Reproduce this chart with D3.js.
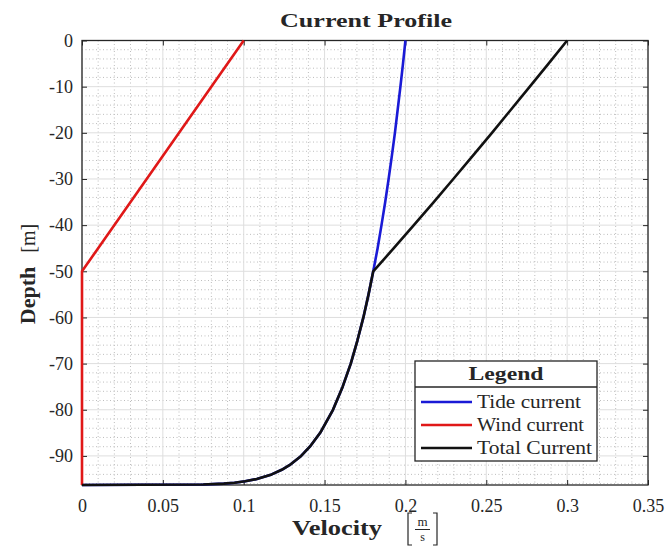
<!DOCTYPE html>
<html>
<head>
<meta charset="utf-8">
<script src="https://cdn.jsdelivr.net/npm/d3@7"></script>
<style>
  html, body { margin: 0; padding: 0; background: #fff; }
  svg { display: block; }
  text { font-family: "Liberation Serif", "Times New Roman", serif; fill: #262626; }
</style>
</head>
<body>
<svg id="chart" width="665" height="547"></svg>
<script>
// Depth stations (m) and velocities (m/s) of the current profile
const depths = [0, -5, -10, -15, -20, -25, -30, -35, -40, -45, -50, -55, -60, -65, -70, -75, -80, -85, -88, -90, -92, -93, -94, -95, -95.5, -95.8, -96, -96.2, -96.3];
const tideVel = [0.2, 0.1985, 0.1969, 0.1952, 0.1935, 0.1916, 0.1896, 0.1875, 0.1852, 0.1828, 0.1801, 0.1772, 0.1740, 0.1703, 0.1662, 0.1612, 0.1552, 0.1473, 0.1409, 0.1355, 0.1283, 0.1235, 0.1173, 0.1081, 0.1009, 0.0943, 0.0877, 0.0750, 0];
const windDepths = [0, -50, -96.3];
const windVel = [0.1, 0, 0];
const totalVel = [0.3, 0.2885, 0.2769, 0.2652, 0.2535, 0.2416, 0.2296, 0.2175, 0.2052, 0.1928, 0.1801, 0.1772, 0.1740, 0.1703, 0.1662, 0.1612, 0.1552, 0.1473, 0.1409, 0.1355, 0.1283, 0.1235, 0.1173, 0.1081, 0.1009, 0.0943, 0.0877, 0.0750, 0];

const xTicks = [0, 0.05, 0.1, 0.15, 0.2, 0.25, 0.3, 0.35];
const xTickLabels = ["0", "0.05", "0.1", "0.15", "0.2", "0.25", "0.3", "0.35"];
const yTicks = [0, -10, -20, -30, -40, -50, -60, -70, -80, -90];
const yTickLabels = ["0", "-10", "-20", "-30", "-40", "-50", "-60", "-70", "-80", "-90"];

const seriesNames = ["Tide current", "Wind current", "Total Current"];
const seriesColors = ["#1a1ad6", "#e01818", "#111111"];

const svg = d3.select("#chart");
const L = 82, R = 648, T = 40.5, B = 485;

const x = d3.scaleLinear().domain([0, 0.35]).range([L, R]);
const y = d3.scaleLinear().domain([-96.3, 0]).range([B, T]);

// minor grid (dotted)
const minorX = d3.range(0, 0.3501, 0.01).filter(v => Math.abs(v / 0.05 - Math.round(v / 0.05)) > 1e-6);
const minorY = d3.range(-96, 0.01, 2).filter(v => v % 10 !== 0);
const grid = svg.append("g");
grid.selectAll(".mx").data(minorX).join("line")
  .attr("x1", d => x(d)).attr("x2", d => x(d)).attr("y1", T).attr("y2", B)
  .attr("stroke", "#bdbdbd").attr("stroke-width", 1).attr("stroke-dasharray", "1,2.5");
grid.selectAll(".my").data(minorY).join("line")
  .attr("y1", d => y(d)).attr("y2", d => y(d)).attr("x1", L).attr("x2", R)
  .attr("stroke", "#bdbdbd").attr("stroke-width", 1).attr("stroke-dasharray", "1,2.5");
// major grid
grid.selectAll(".gx").data(xTicks).join("line")
  .attr("x1", d => x(d)).attr("x2", d => x(d)).attr("y1", T).attr("y2", B)
  .attr("stroke", "#dedede").attr("stroke-width", 1);
grid.selectAll(".gy").data(yTicks).join("line")
  .attr("y1", d => y(d)).attr("y2", d => y(d)).attr("x1", L).attr("x2", R)
  .attr("stroke", "#dedede").attr("stroke-width", 1);

// axes with inward ticks on all four sides
const fmtX = d => xTickLabels[xTicks.indexOf(d)];
const fmtY = d => yTickLabels[yTicks.indexOf(d)];
const styleAxis = g => {
  g.select(".domain").remove();
  g.selectAll(".tick line").attr("stroke", "#262626").attr("stroke-width", 1);
  g.selectAll("text").attr("font-size", 18).attr("font-family", "Liberation Serif").attr("fill", "#262626");
};
svg.append("g").attr("transform", `translate(0,${B})`)
  .call(d3.axisBottom(x).tickValues(xTicks).tickFormat(fmtX).tickSizeInner(-5).tickSizeOuter(0).tickPadding(14))
  .call(styleAxis);
svg.append("g").attr("transform", `translate(0,${T})`)
  .call(d3.axisTop(x).tickValues(xTicks).tickFormat("").tickSizeInner(-5).tickSizeOuter(0))
  .call(styleAxis);
svg.append("g").attr("transform", `translate(${L},0)`)
  .call(d3.axisLeft(y).tickValues(yTicks).tickFormat(fmtY).tickSizeInner(-5).tickSizeOuter(0).tickPadding(9))
  .call(styleAxis);
svg.append("g").attr("transform", `translate(${R},0)`)
  .call(d3.axisRight(y).tickValues(yTicks).tickFormat("").tickSizeInner(-5).tickSizeOuter(0))
  .call(styleAxis);

svg.append("rect").attr("x", L).attr("y", T).attr("width", R - L).attr("height", B - T)
  .attr("fill", "none").attr("stroke", "#262626").attr("stroke-width", 1.3);

// profile lines
const line = d3.line().x(d => x(d[0])).y(d => y(d[1]));
const tidePts = depths.map((z, i) => [tideVel[i], z]);
const windPts = windDepths.map((z, i) => [windVel[i], z]);
const totalPts = depths.map((z, i) => [totalVel[i], z]);
[[tidePts, 0], [windPts, 1], [totalPts, 2]].forEach(([pts, k]) => {
  svg.append("path").datum(pts).attr("d", line)
    .attr("fill", "none").attr("stroke", seriesColors[k]).attr("stroke-width", 2.6)
    .attr("stroke-linejoin", "round");
});

// title
svg.append("text").attr("x", 366).attr("y", 27).attr("text-anchor", "middle")
  .attr("font-size", 19).attr("font-weight", "bold")
  .attr("textLength", 172).attr("lengthAdjust", "spacingAndGlyphs")
  .text("Current Profile");

// x label: Velocity [m/s]
svg.append("text").attr("x", 292).attr("y", 535)
  .attr("font-size", 21).attr("font-weight", "bold")
  .attr("textLength", 90).attr("lengthAdjust", "spacingAndGlyphs")
  .text("Velocity");
const unit = svg.append("g");
// square brackets around the fraction
unit.append("path").attr("d", "M412,513 L408,513 L408,545 L412,545")
  .attr("fill", "none").attr("stroke", "#262626").attr("stroke-width", 1.2);
unit.append("path").attr("d", "M433,513 L437,513 L437,545 L433,545")
  .attr("fill", "none").attr("stroke", "#262626").attr("stroke-width", 1.2);
unit.append("text").attr("x", 422.5).attr("y", 526).attr("text-anchor", "middle").attr("font-size", 13).text("m");
unit.append("line").attr("x1", 415).attr("x2", 430).attr("y1", 529.5).attr("y2", 529.5).attr("stroke", "#262626").attr("stroke-width", 1);
unit.append("text").attr("x", 422.5).attr("y", 541).attr("text-anchor", "middle").attr("font-size", 12).text("s");

// y label: Depth [m]
const yl = svg.append("text").attr("transform", "translate(35,274) rotate(-90)")
  .attr("text-anchor", "middle").attr("font-size", 22);
yl.append("tspan").attr("font-weight", "bold").text("Depth");
yl.append("tspan").attr("dx", 14).attr("font-size", 20).text("[m]");

// legend
const lg = svg.append("g");
lg.append("rect").attr("x", 415).attr("y", 361).attr("width", 182).attr("height", 100)
  .attr("fill", "#fff").attr("stroke", "#262626").attr("stroke-width", 1.3);
lg.append("line").attr("x1", 415).attr("x2", 597).attr("y1", 387).attr("y2", 387)
  .attr("stroke", "#262626").attr("stroke-width", 1.3);
lg.append("text").attr("x", 506).attr("y", 380).attr("text-anchor", "middle")
  .attr("font-size", 19).attr("font-weight", "bold")
  .attr("textLength", 75).attr("lengthAdjust", "spacingAndGlyphs").text("Legend");
const entryY = [402, 425, 448];
const entryW = [104, 107, 115];
seriesNames.forEach((name, i) => {
  lg.append("line").attr("x1", 421).attr("x2", 472).attr("y1", entryY[i]).attr("y2", entryY[i])
    .attr("stroke", seriesColors[i]).attr("stroke-width", 2.6);
  lg.append("text").attr("x", 477).attr("y", entryY[i] + 6).attr("font-size", 18)
    .attr("textLength", entryW[i]).attr("lengthAdjust", "spacingAndGlyphs").text(name);
});
</script>
</body>
</html>
